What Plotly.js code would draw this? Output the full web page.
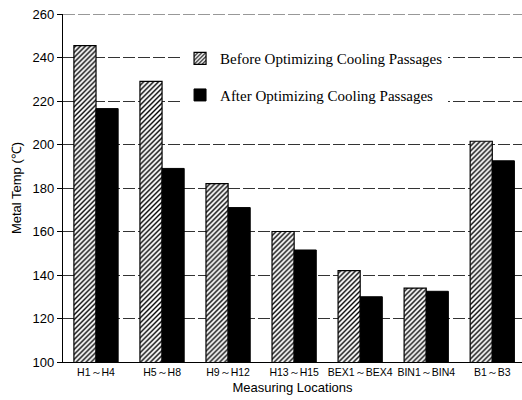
<!DOCTYPE html>
<html>
<head>
<meta charset="utf-8">
<script src="https://cdn.plot.ly/plotly-3.0.1.min.js"></script>
<style>html,body{margin:0;padding:0;background:#fff;}#chart{width:522px;height:400px;}</style>
</head>
<body>
<div id="chart"></div>
<script>
const categories = ["H1～H4", "H5～H8", "H9～H12", "H13～H15", "BEX1～BEX4", "BIN1～BIN4", "B1～B3"];
const beforeValues = [245.5, 229, 182, 160, 142, 134, 201.5];
const afterValues = [216.5, 189, 171, 151.5, 130, 132.5, 192.5];
const yTicks = [100, 120, 140, 160, 180, 200, 220, 240, 260];

const traces = [
  {
    type: "bar", x: categories, y: beforeValues,
    name: "Before Optimizing Cooling Passages",
    legendgroup: "a",
    marker: {color: "#ffffff", line: {color: "#000", width: 1.2},
      pattern: {shape: "/", fgcolor: "#000", bgcolor: "#fff", size: 3.5, solidity: 0.4}}
  },
  {
    type: "bar", x: categories, y: afterValues,
    name: "After Optimizing Cooling Passages",
    legendgroup: "b",
    marker: {color: "#000000", line: {color: "#000", width: 1}}
  }
];

const layout = {
  width: 522, height: 400,
  margin: {l: 63, r: 0, t: 14, b: 38},
  paper_bgcolor: "#fff", plot_bgcolor: "#fff",
  barmode: "group", bargap: 0.33, bargroupgap: 0,
  showlegend: true,
  legend: {
    x: 0.255, y: 0.919, xanchor: "left", yanchor: "top",
    bgcolor: "#fff", borderwidth: 0,
    font: {family: "Liberation Serif, Times New Roman, serif", size: 15, color: "#000"},
    tracegroupgap: 14, traceorder: "grouped",
    itemwidth: 30
  },
  shapes: [
    {type: "line", xref: "paper", yref: "y", x0: 0, x1: 1, y0: 260, y1: 260,
     line: {color: "#333", width: 1, dash: "12px,3px"}, layer: "below"}
  ],
  xaxis: {
    type: "category", range: [-0.5, 6.45],
    showline: true, linecolor: "#000", linewidth: 1.2,
    ticks: "", showgrid: false,
    tickfont: {family: "Liberation Sans, Arial, sans-serif", size: 10.5, color: "#000"},
    title: {text: "Measuring Locations", standoff: 6,
      font: {family: "Liberation Sans, Arial, sans-serif", size: 13, color: "#000"}}
  },
  yaxis: {
    range: [100, 260], tickvals: yTicks, ticktext: yTicks.map(String),
    showline: true, linecolor: "#000", linewidth: 1.2,
    ticks: "outside", ticklen: 5, tickcolor: "#000",
    showgrid: true, gridcolor: "#333", griddash: "12px,3px", gridwidth: 1,
    zeroline: false,
    tickfont: {family: "Liberation Sans, Arial, sans-serif", size: 13, color: "#000"},
    title: {text: "Metal Temp (℃)", standoff: 8,
      font: {family: "Liberation Sans, Arial, sans-serif", size: 13, color: "#000"}}
  }
};

Plotly.newPlot("chart", traces, layout, {displayModeBar: false, staticPlot: true});
</script>
</body>
</html>
